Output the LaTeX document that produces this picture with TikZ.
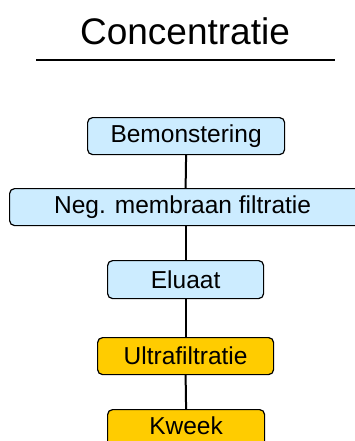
\documentclass[tikz,border=0pt]{standalone}
\usepackage{fontspec}
\setmainfont{Liberation Sans}
\definecolor{lblue}{HTML}{CCECFF}
\definecolor{gold}{HTML}{FFCC00}
\begin{document}
\begin{tikzpicture}[x=1pt,y=-1pt,
  box/.style={draw=black, line width=1.2pt, rounded corners=5pt, inner sep=0pt, anchor=north west},
  bluebox/.style={box, fill=lblue},
  goldbox/.style={box, fill=gold},
  link/.style={draw=black, line width=2pt},
  lbl/.style={font=\fontsize{24.5}{26}\selectfont}]
\path[use as bounding box] (0,0) rectangle (355,441);
\clip (0,0) rectangle (355,441);
\node (title) at (185,31) {\fontsize{37}{40}\selectfont Concentratie};
\coordinate (tl) at (36,60);
\coordinate (tr) at (335,60);
\draw[line width=2.8pt] (tl) -- (tr);
\node[bluebox, minimum width=197pt, minimum height=37pt] (b1) at (87,117) {};
\node[bluebox, minimum width=352pt, minimum height=37pt] (b2) at (9,188) {};
\node[bluebox, minimum width=156pt, minimum height=38pt] (b3) at (107,260) {};
\node[goldbox, minimum width=176pt, minimum height=37pt] (b4) at (97,337) {};
\node[goldbox, minimum width=157pt, minimum height=37pt] (b5) at (107,409) {};
\draw[link] (b1.south) -- (b2.north);
\draw[link] (b2.south) -- (b3.north);
\draw[link] (b3.south) -- (b4.north);
\draw[link] (b4.south) -- (b5.north);
\node[lbl] at (b1.center) {Bemonstering};
\node[lbl] at ([xshift=-3pt]b2.center) {Neg. membraan filtratie};
\node[lbl] at (b3.center) {Eluaat};
\node[lbl] at (b4.center) {Ultrafiltratie};
\node[lbl] at ([yshift=2pt]b5.center) {Kweek};
\end{tikzpicture}
\end{document}
